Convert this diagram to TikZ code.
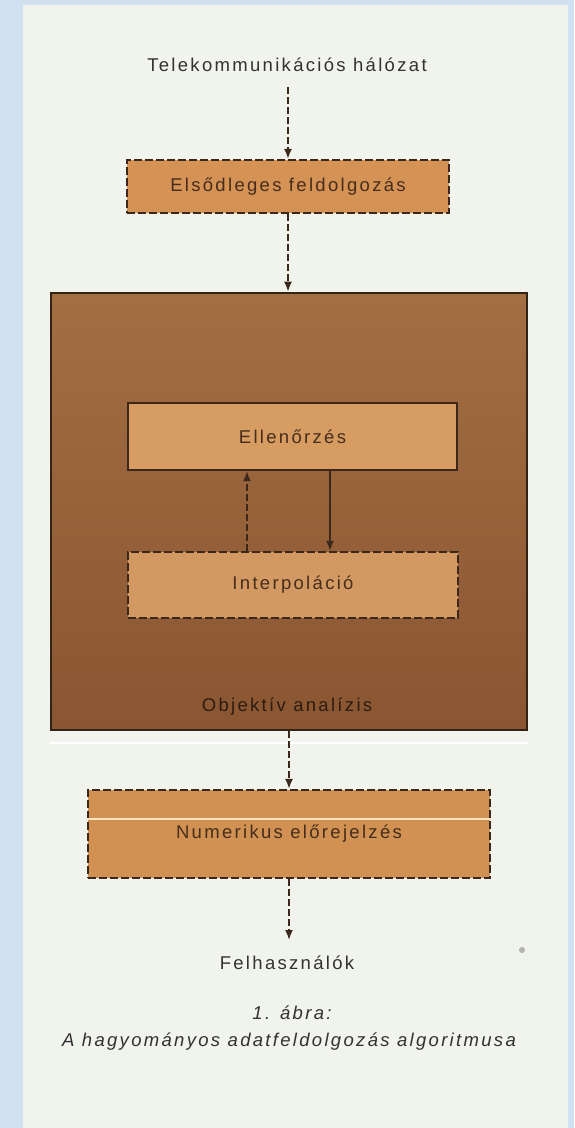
\documentclass[tikz,border=0pt]{standalone}
\usepackage{fontspec}
\setmainfont{Liberation Sans}[LetterSpace=12.5]
\usetikzlibrary{arrows.meta}
\definecolor{pageblue}{RGB}{210,225,242}
\definecolor{paper}{RGB}{241,243,237}
\definecolor{primfill}{RGB}{212,146,84}
\definecolor{bigfill}{RGB}{163,110,66}
\definecolor{bigdark}{RGB}{138,86,50}
\definecolor{ellfill}{RGB}{214,156,98}
\definecolor{intfill}{RGB}{210,154,98}
\definecolor{numfill}{RGB}{208,145,82}
\definecolor{edge}{RGB}{60,40,26}
\definecolor{boxtext}{RGB}{70,45,28}
\definecolor{toptext}{RGB}{50,50,50}
\definecolor{objtext}{RGB}{45,28,16}
\definecolor{streak}{RGB}{250,228,195}
\begin{document}
\begin{tikzpicture}[x=1pt,y=1pt,
  txt/.style={inner sep=0pt, font=\fontsize{18.5}{22}\selectfont},
  captxt/.style={inner sep=0pt, text=toptext, font=\fontsize{18.5}{22}\selectfont\itshape},
  dbox/.style={draw=edge, line width=2.2pt, dash pattern=on 8pt off 3pt, text=boxtext,
               font=\fontsize{18.5}{22}\selectfont, inner sep=0pt},
  sbox/.style={draw=edge, line width=2.4pt, text=boxtext,
               font=\fontsize{18.5}{22}\selectfont, inner sep=0pt},
  big/.style={draw=edge!85!black, line width=2.6pt, inner sep=0pt,
              minimum width=476, minimum height=437,
              top color=bigfill, middle color=bigfill, bottom color=bigdark},
  arr/.style={draw=edge, line width=1.8pt, -{Latex[length=10pt,width=8pt]}},
  darr/.style={arr, dash pattern=on 7pt off 3pt},
  speck/.style={circle, fill=gray!60, inner sep=0pt, minimum size=6pt}
]
\fill[pageblue] (0,0) rectangle (574,-1128);
\fill[paper] (23,-5) rectangle (568,-1128);
\useasboundingbox (0,0) rectangle (574,-1128);

\node[txt, text=toptext] (tele) at (287,-65) {Telekommunikációs hálózat};
\node[dbox, fill=primfill, minimum width=322, minimum height=53] (prim) at (288,-186.5) {Elsődleges feldolgozás};

\node[big] (obj) at (289,-511.5) {};
\node[txt, text=objtext] (objl) at (287,-707) {Objektív analízis};
\node[sbox, fill=ellfill, minimum width=329, minimum height=67] (ell) at (292.5,-436.5) {Ellenőrzés};
\node[dbox, fill=intfill, minimum width=330, minimum height=66] (int) at (293,-585) {Interpoláció};

\draw[white, line width=2pt] ([yshift=-12pt]obj.south west) -- ([yshift=-12pt]obj.south east);

\node[dbox, fill=numfill, minimum width=402, minimum height=88] (num) at (289,-834) {Numerikus előrejelzés};
\draw[streak, line width=1.5pt] ([yshift=15pt]num.west) -- ([yshift=15pt]num.east);

\node[txt, text=toptext] (felh) at (287,-963) {Felhasználók};
\node[speck] (dot) at (522,-950) {};
\node[captxt] (cap1) at (292,-1013) {1. ábra:};
\node[captxt] (cap2) at (289,-1042) {A hagyományos adatfeldolgozás algoritmusa};

\coordinate (ux) at (247,0);
\coordinate (dx) at (330,0);
\coordinate (tbot) at ([yshift=-22pt]tele.center);
\coordinate (ftop) at ([yshift=23pt]felh.center);
\draw[darr] (prim.north |- tbot) -- (prim.north);
\draw[darr] (prim.south) -- (prim.south |- obj.north);
\draw[darr] (int.north -| ux) -- (ell.south -| ux);
\draw[arr] (ell.south -| dx) -- (int.north -| dx);
\draw[darr] (obj.south) -- (num.north);
\draw[darr] (num.south) -- (num.south |- ftop);
\end{tikzpicture}
\end{document}
